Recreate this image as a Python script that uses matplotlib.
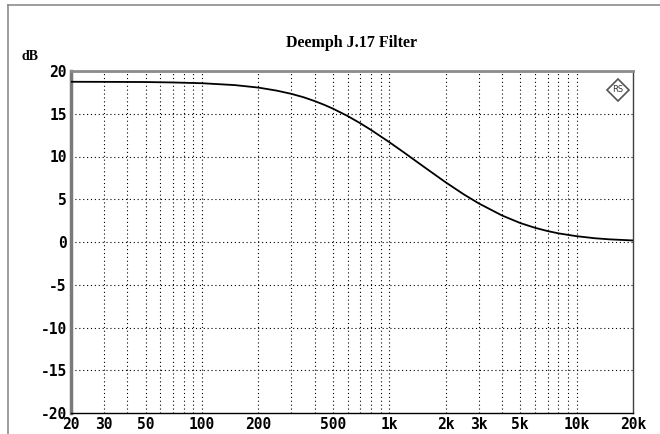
import matplotlib
matplotlib.use("Agg")
import matplotlib.pyplot as plt
from matplotlib.patches import Polygon
import numpy as np

# values
freq = [20, 30, 50, 70, 100, 150, 200, 250, 300, 350, 400, 450, 500, 600,
        700, 800, 1000, 1200, 1500, 2000, 2500, 3000, 4000, 5000, 6000, 7000,
        8000, 10000, 12500, 15000, 20000]
level_db = [18.74, 18.73, 18.71, 18.66, 18.57, 18.35, 18.06, 17.71, 17.33,
            16.92, 16.48, 16.04, 15.60, 14.73, 13.89, 13.10, 11.68, 10.46,
            8.93, 6.98, 5.57, 4.52, 3.10, 2.22, 1.66, 1.28, 1.01, 0.68, 0.44,
            0.31, 0.18]

xticks = [20, 30, 50, 100, 200, 500, 1000, 2000, 3000, 5000, 10000, 20000]
xtick_labels = ["20", "30", "50", "100", "200", "500", "1k", "2k", "3k", "5k",
                "10k", "20k"]
yticks = [-20, -15, -10, -5, 0, 5, 10, 15, 20]
title = "Deemph J.17 Filter"

fig = plt.figure(figsize=(6.6, 4.34), dpi=100)
ax = fig.add_axes([71 / 660, 1 - 413 / 434, 562 / 660, 342 / 434])

ax.plot(freq, level_db, color="black", lw=1.3, zorder=3)
ax.set_xscale("log")
ax.set_xlim(20, 20000)
ax.set_ylim(-20, 20)

# vertical grid at 2..9 of every decade
grid_x = [m * 10 ** d for d in range(1, 5) for m in range(1, 10)]
grid_x = [g for g in grid_x if 20 < g < 20000]
for g in grid_x:
    ax.axvline(g, color="black", lw=0.8, ls=(0, (1, 2.5)), zorder=1)
for y in yticks[1:-1]:
    ax.axhline(y, color="black", lw=0.8, ls=(0, (1, 2.5)), zorder=1)
ax.axhline(20, color="black", lw=1.0, ls=(0, (1, 1)), zorder=1)

ax.set_xticks(xticks)
ax.set_xticklabels(xtick_labels)
ax.xaxis.set_minor_locator(matplotlib.ticker.NullLocator())
ax.set_yticks(yticks)
ax.set_yticklabels([str(v) for v in yticks])
ax.tick_params(length=0, labelsize=10.5, pad=3)
for lab in ax.get_xticklabels() + ax.get_yticklabels():
    lab.set_family("DejaVu Sans Mono")
    lab.set_fontweight("bold")

ax.spines["left"].set_color("#7a7a7a")
ax.spines["left"].set_linewidth(2.5)
ax.spines["top"].set_color("#8c8c8c")
ax.spines["top"].set_linewidth(2)
ax.spines["right"].set_color("#404040")
ax.spines["right"].set_linewidth(1)
ax.spines["bottom"].set_color("black")
ax.spines["bottom"].set_linewidth(1)

fig.text(352 / 660, 1 - 43 / 434, title, ha="center", va="center",
         family="Liberation Serif", fontweight="bold", fontsize=11.5)
fig.text(30 / 660, 1 - 57 / 434, "dB", ha="center", va="center",
         family="Liberation Serif", fontweight="bold", fontsize=10)

# small logo diamond, top right
cx, cy, r = 618 / 660, 1 - 90 / 434, 11
pts = [(cx, cy + r / 434), (cx + r / 660, cy), (cx, cy - r / 434), (cx - r / 660, cy)]
fig.patches.append(Polygon(pts, closed=True, fill=False, ec="#555555", lw=1.2,
                           transform=fig.transFigure, figure=fig))
fig.text(cx, cy, "RS", ha="center", va="center", fontsize=6, color="#333333",
         family="DejaVu Sans")

# outer frame lines
fig.add_artist(plt.Line2D([8 / 660, 1], [1 - 5 / 434, 1 - 5 / 434],
                          color="#8c8c8c", lw=1.2, transform=fig.transFigure))
fig.add_artist(plt.Line2D([8 / 660, 8 / 660], [0, 1 - 5 / 434],
                          color="#8c8c8c", lw=1.2, transform=fig.transFigure))

fig.savefig("out.png", dpi=100)
